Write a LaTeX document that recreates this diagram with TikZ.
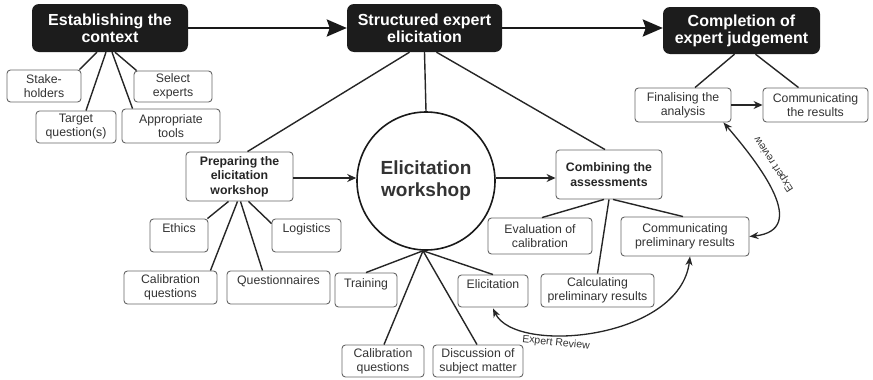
\documentclass[tikz,border=0pt]{standalone}
\usepackage{fontspec}
\setmainfont{Liberation Sans}
\usetikzlibrary{arrows.meta,calc}
\definecolor{boxline}{HTML}{666666}
\definecolor{txt}{HTML}{333333}
\definecolor{headfill}{HTML}{1C1C1C}
\begin{document}
\begin{tikzpicture}[x=1pt,y=-1pt,
 head/.style={fill=headfill, text=white, rounded corners=7pt, font=\bfseries\fontsize{16}{17}\selectfont, align=center, inner sep=0pt},
 box/.style={draw=boxline, line width=0.9pt, rounded corners=3.5pt, text=txt, font=\fontsize{12.3}{14}\selectfont, align=center, inner sep=0pt},
 bbox/.style={box, font=\bfseries\fontsize{12.3}{14.5}\selectfont, text=black!85},
 con/.style={draw=black!85, line width=1.4pt},
 bigarrow/.style={draw=black!90, line width=2.6pt, -{Stealth[length=20pt,width=17pt,inset=3pt]}},
 arr/.style={draw=black!85, line width=1.3pt, -{Stealth[length=9pt,width=8pt]}},
 rev/.style={draw=black!85, line width=1.3pt, {Stealth[length=9pt,width=7pt]}-{Stealth[length=9pt,width=7pt]}},
 lbl/.style={font=\fontsize{10.5}{12}\selectfont, text=txt, inner sep=0pt}
]
\useasboundingbox (0,0) rectangle (873,380);
\fill[white] (0,0) rectangle (873,380);

% headers
\node[head, minimum width=156, minimum height=48] (est) at (110,28) {Establishing the\\context};
\node[head, minimum width=155, minimum height=48] (struct) at (424.5,28) {Structured expert\\elicitation};
\node[head, minimum width=157, minimum height=47] (compl) at (741.5,30.5) {Completion of\\expert judgement};

% establishing children
\node[box, minimum width=74, minimum height=32] (stake) at (44,86) {Stake-\\holders};
\node[box, minimum width=80, minimum height=32] (tq) at (76,127) {Target\\question(s)};
\node[box, minimum width=98, minimum height=34] (at) at (171,126) {Appropriate\\tools};
\node[box, minimum width=78, minimum height=31] (se) at (173,86.5) {Select\\experts};

% middle level
\node[bbox, minimum width=107, minimum height=49] (prep) at (239.5,176.5) {Preparing the\\elicitation\\workshop};
\node[draw=black!90, line width=1.6pt, circle, minimum size=138, inner sep=0pt, text=txt, font=\bfseries\fontsize{19}{22}\selectfont, align=center] (ew) at (426,181) {Elicitation\\workshop};
\node[bbox, minimum width=106, minimum height=49] (comb) at (609,174.5) {Combining the\\assessments};

% preparing children
\node[box, minimum width=58, minimum height=33] (eth) at (179,235.5) {Ethics\\\mbox{}};
\node[box, minimum width=69, minimum height=33] (log) at (306.5,235.5) {Logistics\\\mbox{}};
\node[box, minimum width=93, minimum height=33] (cal1) at (170.5,287.5) {Calibration\\questions};
\node[box, minimum width=103, minimum height=33] (quest) at (278.5,287.5) {Questionnaires\\\mbox{}};

% workshop children
\node[box, minimum width=62, minimum height=34] (train) at (366,290) {Training\\\mbox{}};
\node[box, minimum width=70, minimum height=32] (elic) at (493,291) {Elicitation\\\mbox{}};
\node[box, minimum width=82, minimum height=32] (cal2) at (383,361) {Calibration\\questions};
\node[box, minimum width=90, minimum height=32] (disc) at (478,361) {Discussion of\\subject matter};

% combining children
\node[box, minimum width=104, minimum height=36] (eval) at (540,236) {Evaluation of\\calibration};
\node[box, minimum width=128, minimum height=39] (comprel) at (685,236.5) {Communicating\\preliminary results};
\node[box, minimum width=113, minimum height=33] (calc) at (597.5,290.5) {Calculating\\preliminary results};

% completion children
\node[box, minimum width=96, minimum height=34] (final) at (683,105) {Finalising the\\analysis};
\node[box, minimum width=105, minimum height=34] (commres) at (815.5,105) {Communicating\\the results};

% main arrows
\draw[bigarrow] (est.east) -- (struct.west);
\draw[bigarrow] (struct.east) -- (struct.east -| compl.west);

% establishing connectors
\draw[con] ([xshift=-13]est.south) -- ([xshift=-2]stake.north east);
\draw[con] ([xshift=-4]est.south) -- ([xshift=10]tq.north);
\draw[con] ([xshift=2]est.south) -- ([xshift=11]at.north west);
\draw[con] ([xshift=5]est.south) -- ([xshift=3]se.north west);

% structured connectors
\draw[con] ([xshift=-15]struct.south) -- ([xshift=8]prep.north);
\draw[con] (struct.south) -- (ew.north);
\draw[con] ([xshift=12]struct.south) -- ([xshift=-4]comb.north);

% horizontal arrows
\coordinate (pa) at ([yshift=-1.5]prep.east);
\draw[arr] (pa) -- (pa -| ew.west);
\coordinate (ca) at ([yshift=-3.5]comb.west);
\draw[arr] (ca -| ew.east) -- (ca);

% preparing connectors
\draw[con] ([xshift=-11]prep.south) -- ([xshift=-1]eth.north east);
\draw[con] ([xshift=-2]prep.south) -- ([xshift=-7]cal1.north east);
\draw[con] ([xshift=1]prep.south) -- ([xshift=-16]quest.north);
\draw[con] ([xshift=9]prep.south) -- ([yshift=-5]log.north west);

% workshop connectors
\draw[con] ([xshift=-3]ew.south) -- (train.north);
\draw[con] ([xshift=-3]ew.south) -- ([xshift=1]cal2.north);
\draw[con] ([xshift=-3]ew.south) -- ([xshift=-1]disc.north);
\draw[con] ([xshift=-3]ew.south) -- (elic.north);

% combining connectors
\draw[con] ([xshift=-5]comb.south) -- ([xshift=2]eval.north);
\draw[con] (comb.south) -- (calc.north);
\draw[con] ([xshift=4]comb.south) -- ([xshift=-2]comprel.north);

% completion connectors
\draw[con] ([xshift=-7]compl.south) -- ([xshift=12]final.north);
\draw[con] ([xshift=14]compl.south) -- ([xshift=-17]commres.north);
\draw[arr] (final.east) -- (commres.west);

% expert review arrows
\draw[rev] ([xshift=-8]final.south east) .. controls (760,165) and (810,230) .. (comprel.east);
\node[lbl, rotate=123] (er1) at (774,164) {Expert review};
\draw[rev] ([yshift=-1]elic.south) .. controls (515,355) and (680,340) .. ([xshift=5]comprel.south);
\node[lbl, rotate=-6] (er2) at (556,343) {Expert Review};
\end{tikzpicture}
\end{document}
